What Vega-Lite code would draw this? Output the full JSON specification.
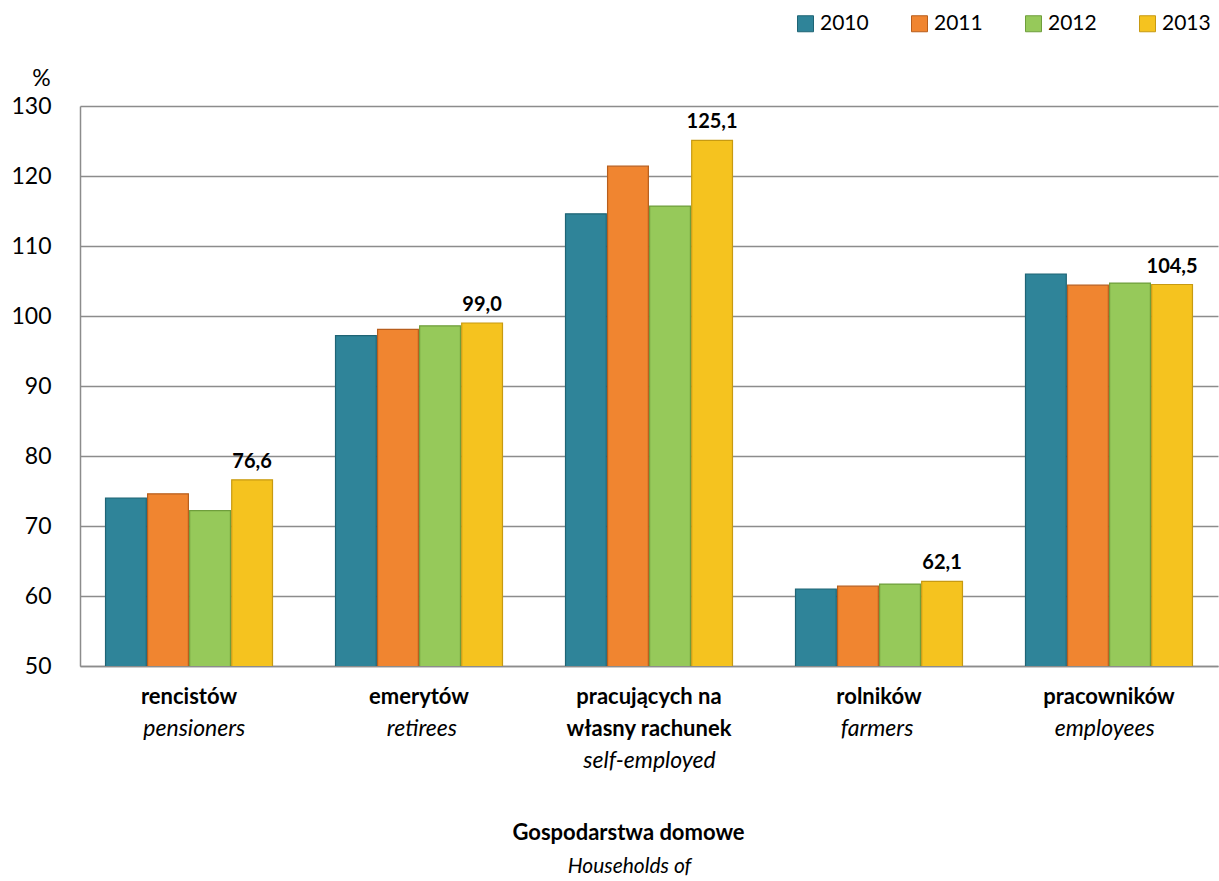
{
  "$schema": "https://vega.github.io/schema/vega-lite/v6.json",
  "autosize": "none",
  "width": 1138,
  "height": 560,
  "padding": {"left": 80, "top": 106, "right": 1, "bottom": 215},
  "background": "white",
  "config": {
    "font": "Lato",
    "view": {"stroke": null},
    "locale": {"number": {"decimal": ",", "thousands": " ", "grouping": [3], "currency": ["", ""]}}
  },
  "data": {
    "values": [
      {"grupa": "rencistów", "en": "pensioners", "rok": "2010", "wartosc": 74.0},
      {"grupa": "rencistów", "en": "pensioners", "rok": "2011", "wartosc": 74.6},
      {"grupa": "rencistów", "en": "pensioners", "rok": "2012", "wartosc": 72.2},
      {"grupa": "rencistów", "en": "pensioners", "rok": "2013", "wartosc": 76.6},
      {"grupa": "emerytów", "en": "retirees", "rok": "2010", "wartosc": 97.2},
      {"grupa": "emerytów", "en": "retirees", "rok": "2011", "wartosc": 98.1},
      {"grupa": "emerytów", "en": "retirees", "rok": "2012", "wartosc": 98.6},
      {"grupa": "emerytów", "en": "retirees", "rok": "2013", "wartosc": 99.0},
      {"grupa": "pracujących na własny rachunek", "en": "self-employed", "rok": "2010", "wartosc": 114.6},
      {"grupa": "pracujących na własny rachunek", "en": "self-employed", "rok": "2011", "wartosc": 121.4},
      {"grupa": "pracujących na własny rachunek", "en": "self-employed", "rok": "2012", "wartosc": 115.7},
      {"grupa": "pracujących na własny rachunek", "en": "self-employed", "rok": "2013", "wartosc": 125.1},
      {"grupa": "rolników", "en": "farmers", "rok": "2010", "wartosc": 61.0},
      {"grupa": "rolników", "en": "farmers", "rok": "2011", "wartosc": 61.4},
      {"grupa": "rolników", "en": "farmers", "rok": "2012", "wartosc": 61.7},
      {"grupa": "rolników", "en": "farmers", "rok": "2013", "wartosc": 62.1},
      {"grupa": "pracowników", "en": "employees", "rok": "2010", "wartosc": 106.0},
      {"grupa": "pracowników", "en": "employees", "rok": "2011", "wartosc": 104.4},
      {"grupa": "pracowników", "en": "employees", "rok": "2012", "wartosc": 104.7},
      {"grupa": "pracowników", "en": "employees", "rok": "2013", "wartosc": 104.5}
    ]
  },
  "layer": [
    {
      "layer": [
        {
          "mark": {"type": "bar", "strokeWidth": 1.2, "clip": true},
          "encoding": {
            "x": {
              "field": "grupa", "type": "nominal", "sort": null,
              "scale": {"paddingInner": 0.274, "paddingOuter": 0.111},
              "axis": {
                "orient": "bottom",
                "domain": true, "domainColor": "#8c8c8c", "domainWidth": 1.5,
                "ticks": false, "grid": false,
                "labelAngle": 0, "labelFont": "Lato", "labelFontWeight": "bold", "labelFontSize": 22,
                "labelColor": "#000000", "labelBaseline": "top", "labelPadding": 20, "labelLineHeight": 32,
                "labelExpr": "datum.value == 'pracujących na własny rachunek' ? ['pracujących na', 'własny rachunek'] : datum.value",
                "title": "Gospodarstwa domowe", "titleFont": "Lato", "titleFontWeight": "bold", "titleFontSize": 22,
                "titleColor": "#000000", "titleX": 548, "titleY": 166, "titleAlign": "center", "titleBaseline": "middle"
              }
            },
            "xOffset": {"field": "rok", "type": "nominal", "scale": {"paddingInner": 0.03}},
            "y": {
              "field": "wartosc", "type": "quantitative",
              "scale": {"domain": [50, 130], "zero": false, "nice": false},
              "axis": {
                "values": [50, 60, 70, 80, 90, 100, 110, 120, 130],
                "domain": true, "domainColor": "#8c8c8c", "domainWidth": 1.5,
                "ticks": false, "grid": true, "gridColor": "#8c8c8c", "gridWidth": 1.5,
                "labelFont": "Lato", "labelFontSize": 23, "labelColor": "#000000", "labelPadding": 29,
                "title": "%", "titleAngle": 0, "titleFont": "Lato", "titleFontWeight": "normal", "titleFontSize": 23,
                "titleColor": "#000000", "titleX": -39, "titleY": -28, "titleAlign": "center", "titleBaseline": "middle"
              }
            },
            "fill": {
              "field": "rok", "type": "nominal", "title": null,
              "scale": {"domain": ["2010", "2011", "2012", "2013"], "range": ["#2F8499", "#F08530", "#96C95A", "#F5C31F"]},
              "legend": {
                "orient": "none", "legendX": 715, "legendY": -93, "direction": "horizontal", "columns": 4,
                "symbolType": "square", "symbolSize": 256, "symbolStrokeWidth": 1, "symbolStrokeColor": "#555555",
                "labelFont": "Lato", "labelFontSize": 21, "labelColor": "#000000", "labelOffset": 4,
                "columnPadding": 40
              }
            },
            "stroke": {
              "field": "rok", "type": "nominal", "legend": null,
              "scale": {"domain": ["2010", "2011", "2012", "2013"], "range": ["#1F6475", "#B85E1C", "#6F9E3C", "#C79A12"]}
            }
          }
        },
        {
          "transform": [{"filter": "datum.rok == '2013'"}],
          "mark": {"type": "text", "baseline": "bottom", "dy": -8, "font": "Lato", "fontWeight": "bold", "fontSize": 20, "color": "#000000"},
          "encoding": {
            "x": {"field": "grupa", "type": "nominal", "sort": null},
            "xOffset": {"field": "rok", "type": "nominal"},
            "y": {"field": "wartosc", "type": "quantitative"},
            "text": {"field": "wartosc", "type": "quantitative", "format": ".1f"}
          }
        }
      ]
    },
    {
      "mark": {"type": "text", "opacity": 0},
      "encoding": {
        "x": {
          "field": "en", "type": "nominal", "sort": null,
          "scale": {"paddingInner": 0.274, "paddingOuter": 0.111},
          "axis": {
            "orient": "bottom", "domain": false, "ticks": false, "grid": false,
            "labelAngle": 0, "labelFont": "Lato", "labelFontStyle": "italic", "labelFontSize": 23,
            "labelColor": "#000000", "labelBaseline": "top", "labelPadding": 51, "labelLineHeight": 32,
            "labelExpr": "datum.value == 'self-employed' ? ['', 'self-employed'] : datum.value",
            "title": "Households of", "titleFont": "Lato", "titleFontStyle": "italic", "titleFontWeight": "normal", "titleFontSize": 21,
            "titleColor": "#000000", "titleX": 549, "titleY": 200, "titleAlign": "center", "titleBaseline": "middle"
          }
        },
        "text": {"value": ""}
      }
    }
  ],
  "resolve": {"scale": {"x": "independent"}}
}
